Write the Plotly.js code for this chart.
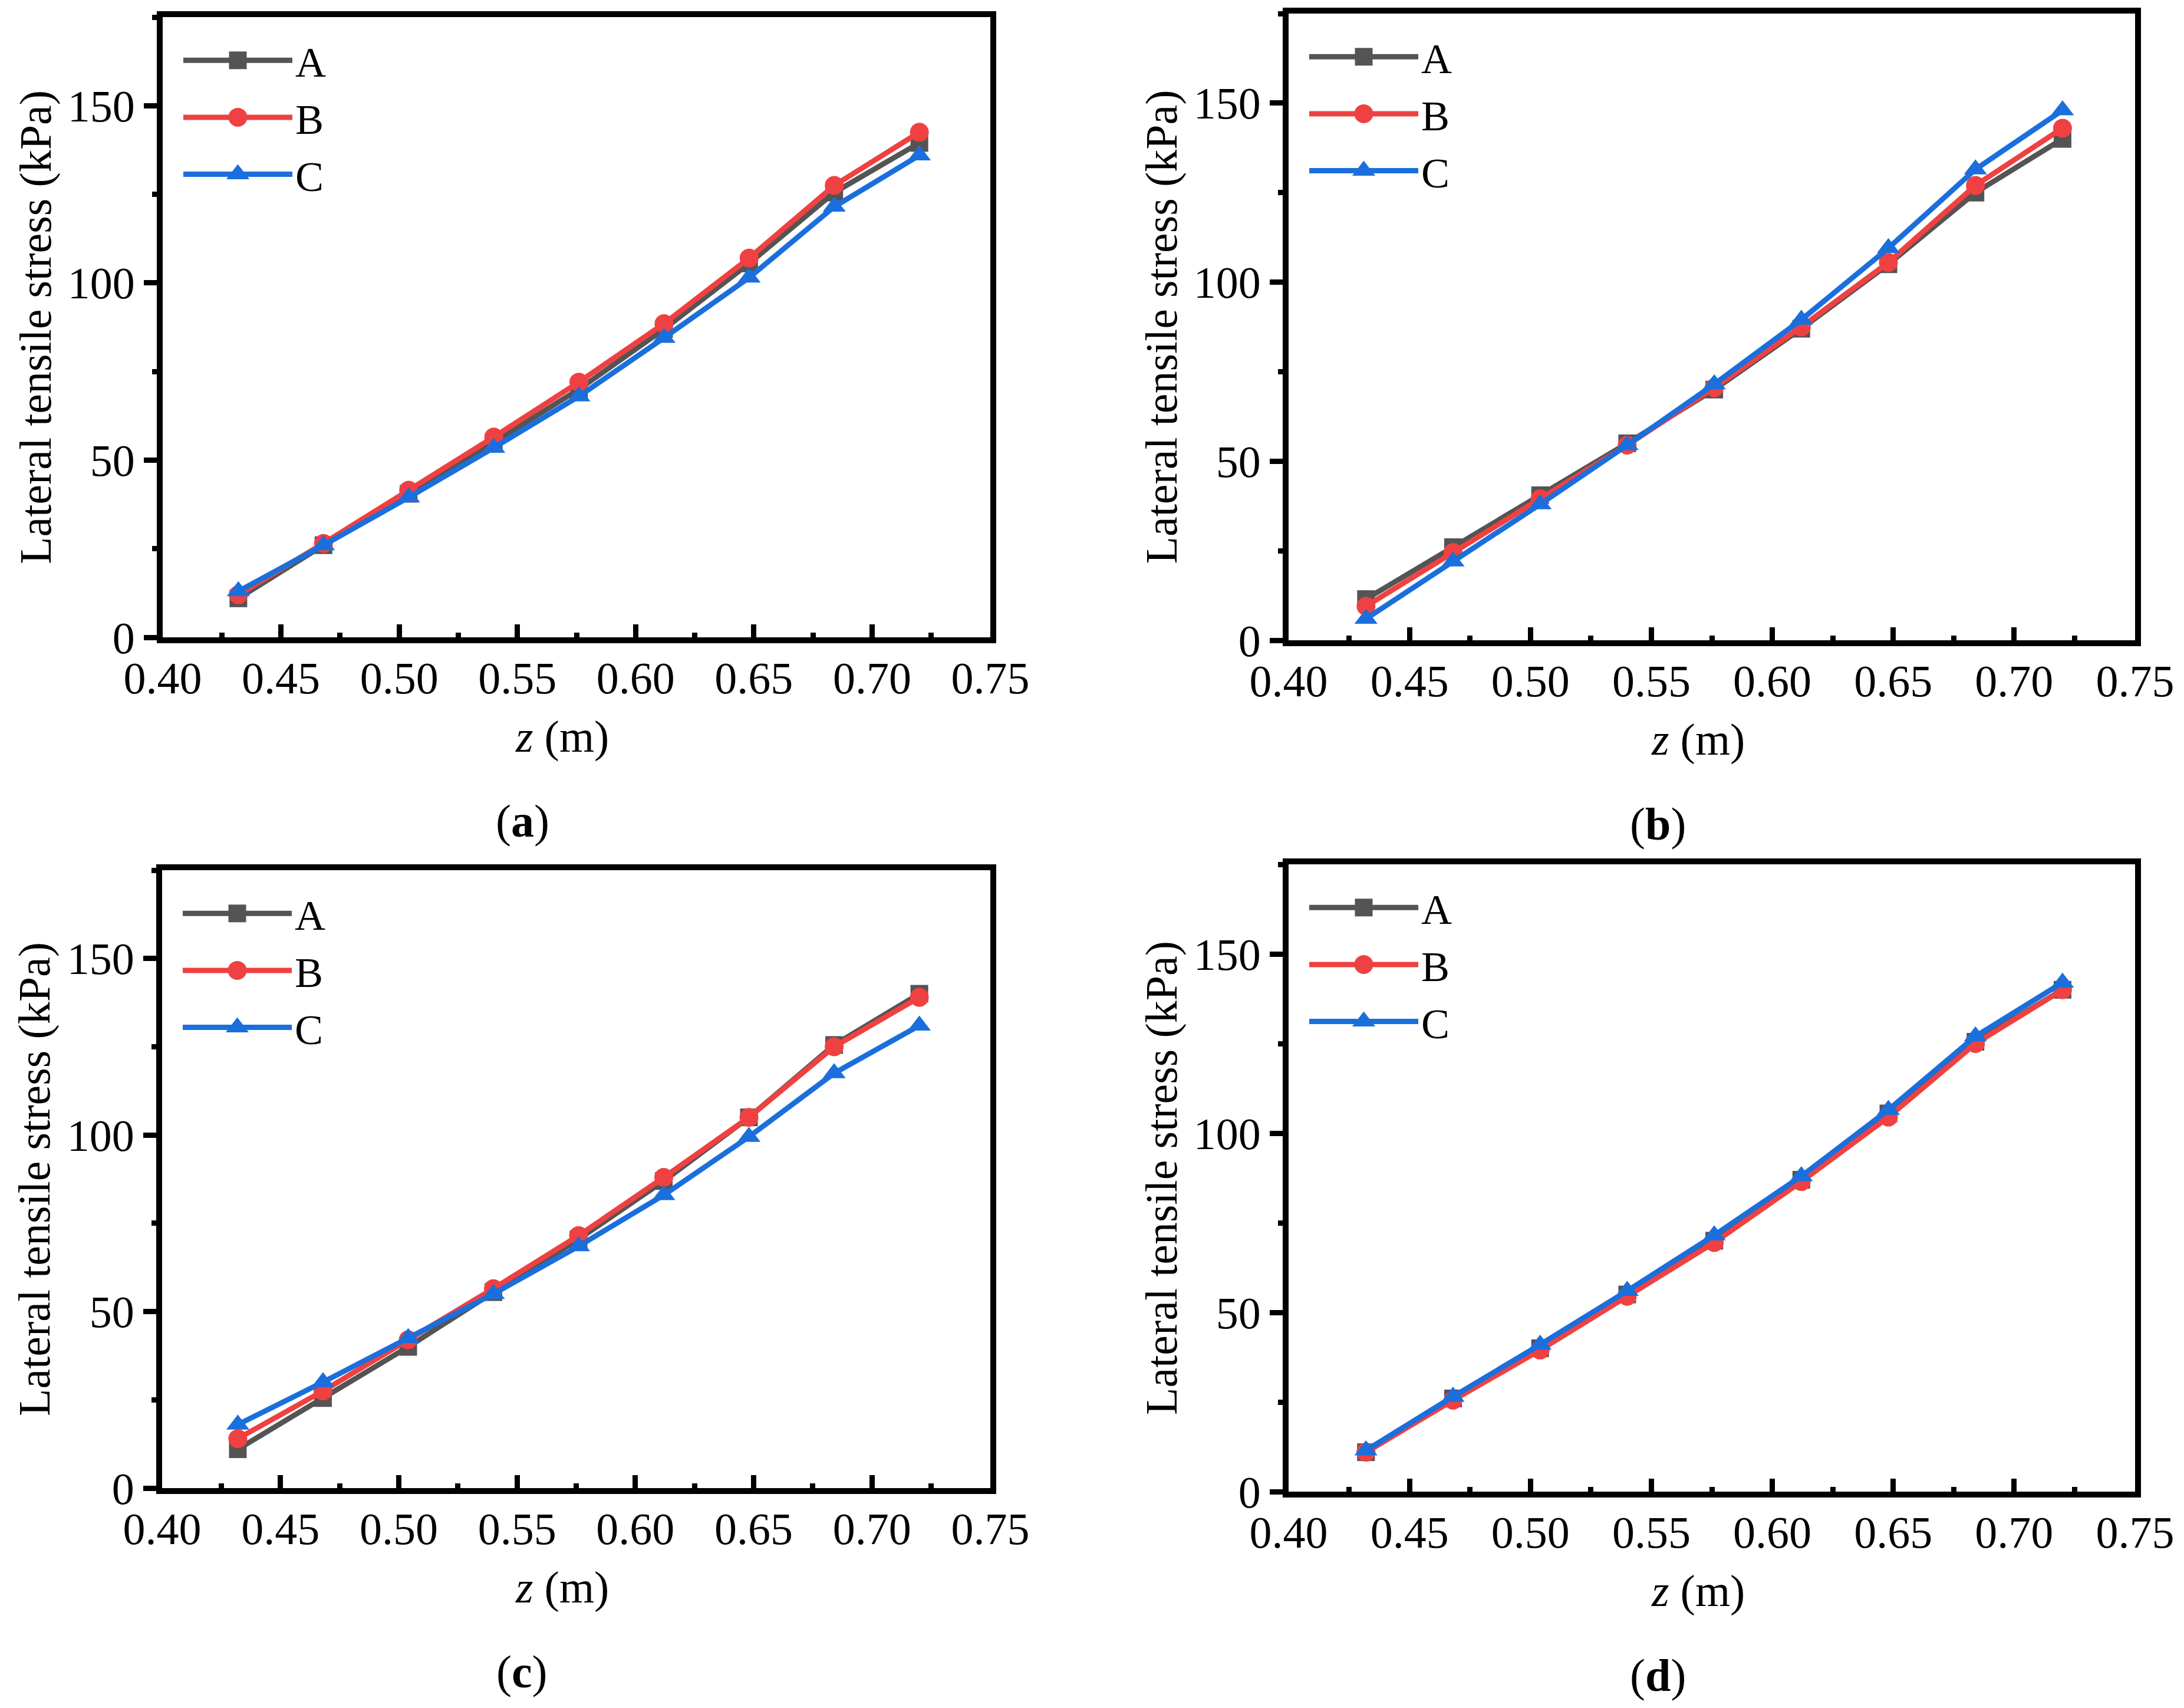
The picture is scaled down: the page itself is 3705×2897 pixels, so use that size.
<!DOCTYPE html>
<html>
<head>
<meta charset="utf-8">
<script src="https://cdn.plot.ly/plotly-3.0.1.min.js"></script>
<style>
  html, body { margin: 0; padding: 0; background: #fff; }
  #chart { width: 3705px; height: 2897px; }
</style>
</head>
<body>
<div id="chart"></div>
<script>
// depth z (m), shared by all four panels
const z = [0.432, 0.468, 0.504, 0.540, 0.576, 0.612, 0.648, 0.684, 0.720];

// lateral tensile stress (kPa)
// panel (a)
const aA = [11, 26, 40.5, 55, 70, 87, 105.5, 125.5, 139.5];
const aB = [12, 26.5, 41.5, 56.5, 72, 88.5, 107, 127.5, 142.5];
const aC = [13, 26, 39.5, 53.5, 68, 84.5, 101.5, 121.5, 136];
// panel (b)
const bA = [11.5, 26, 40.5, 55, 70, 87, 105, 125, 140];
const bB = [9.5, 24.5, 39.5, 54.5, 70.5, 87.5, 105.5, 127, 143];
const bC = [6, 22, 38, 54.5, 71.5, 89.5, 109.5, 131.5, 148];
// panel (c)
const cA = [11, 25.5, 40, 55.5, 70.5, 87, 105, 125.5, 140];
const cB = [14, 27.5, 42, 56.5, 71.5, 88, 105, 125, 139];
const cC = [18, 30, 42.5, 55, 68.5, 83, 99.5, 117.5, 131];
// panel (d)
const dA = [11, 26, 40, 55, 70, 87, 105.5, 125.5, 140];
const dB = [11, 25.5, 39.5, 54.5, 69.5, 86.5, 104.5, 125, 140];
const dC = [11.5, 26.5, 41, 56, 71.5, 88, 106.5, 127, 142];

const seriesNames = ['A', 'B', 'C'];
const panelLabels = ['a', 'b', 'c', 'd'];
const xTickRange = [0.40, 0.75];
const yTickRange = [0, 175];

const W = 3705, H = 2897;
const FONT = '"Liberation Serif", "Times New Roman", serif';
const colors = ['#545454', '#ef4141', '#1b6fdc'];
const symbols = ['square', 'circle', 'triangle-up'];
const markerSizes = [30, 32, 34];

// plot boxes in page pixels (left, right, top, bottom)
const boxes = [
    { l: 276, r: 1680, t: 29, b: 1081 },
    { l: 2186, r: 3622, t: 23, b: 1086 },
    { l: 275, r: 1680, t: 1476, b: 2524 },
    { l: 2186, r: 3622, t: 1466, b: 2530 }
];

const fx = x => x / W;
const fy = y => 1 - y / H;

window.onload = main;

function main() {
    const panelData = [[aA, aB, aC], [bA, bB, bC], [cA, cB, cC], [dA, dB, dC]];

    const traces = [];
    const layout = {
        width: W,
        height: H,
        margin: { l: 0, r: 0, t: 0, b: 0 },
        paper_bgcolor: '#fff',
        plot_bgcolor: '#fff',
        font: { family: FONT, size: 76, color: '#000' },
        annotations: []
    };

    panelData.forEach((series, p) => {
        const n = p === 0 ? '' : String(p + 1);
        const box = boxes[p];
        const legendId = 'legend' + n;

        series.forEach((vals, s) => {
            traces.push({
                x: z,
                y: vals,
                name: seriesNames[s],
                type: 'scatter',
                mode: 'lines+markers',
                xaxis: 'x' + n,
                yaxis: 'y' + n,
                legend: legendId,
                line: { color: colors[s], width: 9 },
                marker: { color: colors[s], symbol: symbols[s], size: markerSizes[s], line: { width: 0 } }
            });
        });

        layout['xaxis' + n] = {
            domain: [fx(box.l), fx(box.r)],
            anchor: 'y' + n,
            range: xTickRange,
            tick0: 0.4,
            dtick: 0.05,
            tickformat: '.2f',
            ticks: 'inside',
            ticklen: 22,
            tickwidth: 9,
            tickcolor: '#000',
            ticklabelstandoff: -6,
            minor: { dtick: 0.025, tick0: 0.4, ticks: 'inside', ticklen: 8, tickwidth: 9, tickcolor: '#000' },
            showline: true,
            linewidth: 10,
            linecolor: '#000',
            mirror: true,
            showgrid: false,
            zeroline: false,
            tickfont: { family: FONT, size: 76, color: '#000' }
        };
        layout['yaxis' + n] = {
            domain: [fy(box.b), fy(box.t)],
            anchor: 'x' + n,
            range: yTickRange,
            dtick: 50,
            ticks: 'outside',
            ticklen: 22,
            tickwidth: 9,
            tickcolor: '#000',
            minor: { dtick: 25, ticks: 'outside', ticklen: 8, tickwidth: 9, tickcolor: '#000' },
            showline: true,
            linewidth: 10,
            linecolor: '#000',
            mirror: true,
            showgrid: false,
            zeroline: false,
            tickfont: { family: FONT, size: 76, color: '#000' }
        };

        layout[legendId] = {
            x: fx(box.l + 30),
            y: fy(box.t + 20),
            xanchor: 'left',
            yanchor: 'top',
            bgcolor: 'rgba(0,0,0,0)',
            borderwidth: 0,
            itemwidth: 185,
            traceorder: 'normal',
            font: { family: FONT, size: 72, color: '#000' }
        };

        const midX = (box.l + box.r) / 2;
        const midY = (box.t + box.b) / 2;
        // y title
        layout.annotations.push({
            text: 'Lateral tensile stress (kPa)',
            xref: 'paper', yref: 'paper',
            x: fx(box.l - 216), y: fy(midY),
            textangle: -90, showarrow: false,
            xanchor: 'center', yanchor: 'middle',
            font: { family: FONT, size: 76, color: '#000' }
        });
        // x title
        layout.annotations.push({
            text: '<i>z</i> (m)',
            xref: 'paper', yref: 'paper',
            x: fx(midX - 24), y: fy(box.b + 168),
            showarrow: false,
            xanchor: 'center', yanchor: 'middle',
            font: { family: FONT, size: 76, color: '#000' }
        });
        // panel label
        layout.annotations.push({
            text: '(<b>' + panelLabels[p] + '</b>)',
            xref: 'paper', yref: 'paper',
            x: fx(midX - 92), y: fy(box.b + 311),
            showarrow: false,
            xanchor: 'center', yanchor: 'middle',
            font: { family: FONT, size: 78, color: '#000' }
        });
    });

    Plotly.newPlot('chart', traces, layout, { displayModeBar: false }).then(() => {
        // legend markers are capped at 16px by plotly; scale them up to match the plot
        document.querySelectorAll('.infolayer g.traces').forEach((tr, i) => {
            const pt = tr.querySelector('path.scatterpts');
            if (!pt) return;
            const s = markerSizes[i % 3] / 16;
            pt.setAttribute('transform', (pt.getAttribute('transform') || '') + ' scale(' + s + ')');
        });
    });
}
</script>
</body>
</html>
